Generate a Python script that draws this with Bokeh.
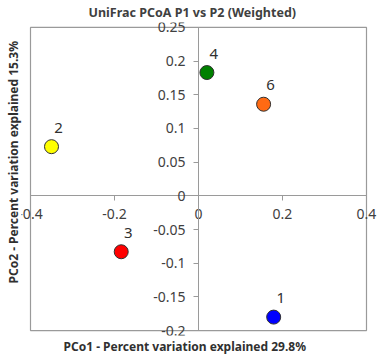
from bokeh.plotting import figure
from bokeh.models import (FixedTicker, CustomJSTickFormatter, Title, ColumnDataSource,
                          Range1d, BoxAnnotation)
from bokeh.core.properties import value
from bokeh.embed import file_html
from bokeh.resources import INLINE

# ---- data ----
sample_labels = ["1", "2", "3", "4", "6"]
pc1_values = [0.179, -0.350, -0.184, 0.020, 0.155]
pc2_values = [-0.180, 0.073, -0.083, 0.183, 0.136]
point_colors = ["#0000FF", "#FFFF00", "#FF0000", "#008000", "#FF6A13"]
x_tick_values = [-0.4, -0.2, 0.0, 0.2, 0.4]
y_tick_values = [-0.2, -0.15, -0.1, -0.05, 0.0, 0.05, 0.1, 0.15, 0.2, 0.25]
title_text = "UniFrac PCoA P1 vs P2 (Weighted)"
x_label = "PCo1 - Percent variation explained 29.8%"
y_label = "PCo2 - Percent variation explained 15.3%"

src = ColumnDataSource(dict(x=pc1_values, y=pc2_values, c=point_colors, t=sample_labels))

x_lo, x_hi = min(x_tick_values), max(x_tick_values)
y_lo, y_hi = min(y_tick_values), max(y_tick_values)
# small paddings so that the end tick labels are not clipped by the frame
x_px = (x_hi - x_lo) / 336.0
y_px = (y_hi - y_lo) / 308.0

p = figure(width=377, height=354,
           x_range=Range1d(x_lo - 9 * x_px, x_hi + 11 * x_px),
           y_range=Range1d(y_lo - 5 * y_px, y_hi + 5 * y_px),
           output_backend="svg", toolbar_location=None,
           min_border_left=21, min_border_right=0, min_border_top=21, min_border_bottom=15)

p.title.text = title_text
p.title.align = "left"
p.title.offset = 67
p.title.standoff = 3
p.title.text_font = "Noto Sans"
p.title.text_font_size = "12.5px"
p.title.text_font_style = "bold"
p.title.text_color = "#404040"

p.grid.visible = False
p.outline_line_color = None
p.add_layout(BoxAnnotation(left=x_lo, right=x_hi, bottom=y_lo, top=y_hi,
                           fill_color=None, fill_alpha=0, line_color="#9a9a9a",
                           line_alpha=1.0, line_width=1.2, level="underlay"))

fmt = CustomJSTickFormatter(code="return (Math.round(tick*100)/100).toString()")
for ax, ticks in ((p.xaxis, x_tick_values), (p.yaxis, y_tick_values)):
    ax.fixed_location = 0
    ax.ticker = FixedTicker(ticks=ticks)
    ax.bounds = (min(ticks), max(ticks))
    ax.formatter = fmt
    ax.axis_line_color = "#9a9a9a"
    ax.major_tick_line_color = "#9a9a9a"
    ax.major_tick_in = 0
    ax.major_tick_out = 5
    ax.minor_tick_line_color = None
    ax.major_label_text_font = "Noto Sans"
    ax.major_label_text_font_size = "14px"
    ax.major_label_text_color = "#404040"
    ax.major_label_standoff = 8

p.scatter("x", "y", source=src, size=14, fill_color="c", line_color="#303030", line_width=1)
p.text("x", "y", text="t", source=src, x_offset=7, y_offset=-19,
       text_align="center", text_baseline="middle",
       text_font=value("Noto Sans"), text_font_size="15px", text_color="#303030")

p.add_layout(Title(text=x_label, align="left", offset=42, text_font="Noto Sans", text_font_size="12px",
                   text_font_style="bold", text_color="#303030", standoff=0), "below")
p.add_layout(Title(text=y_label, align="left", offset=52, text_font="Noto Sans", text_font_size="12px",
                   text_font_style="bold", text_color="#303030", standoff=0), "left")

open("out.html", "w").write(file_html(p, INLINE))
